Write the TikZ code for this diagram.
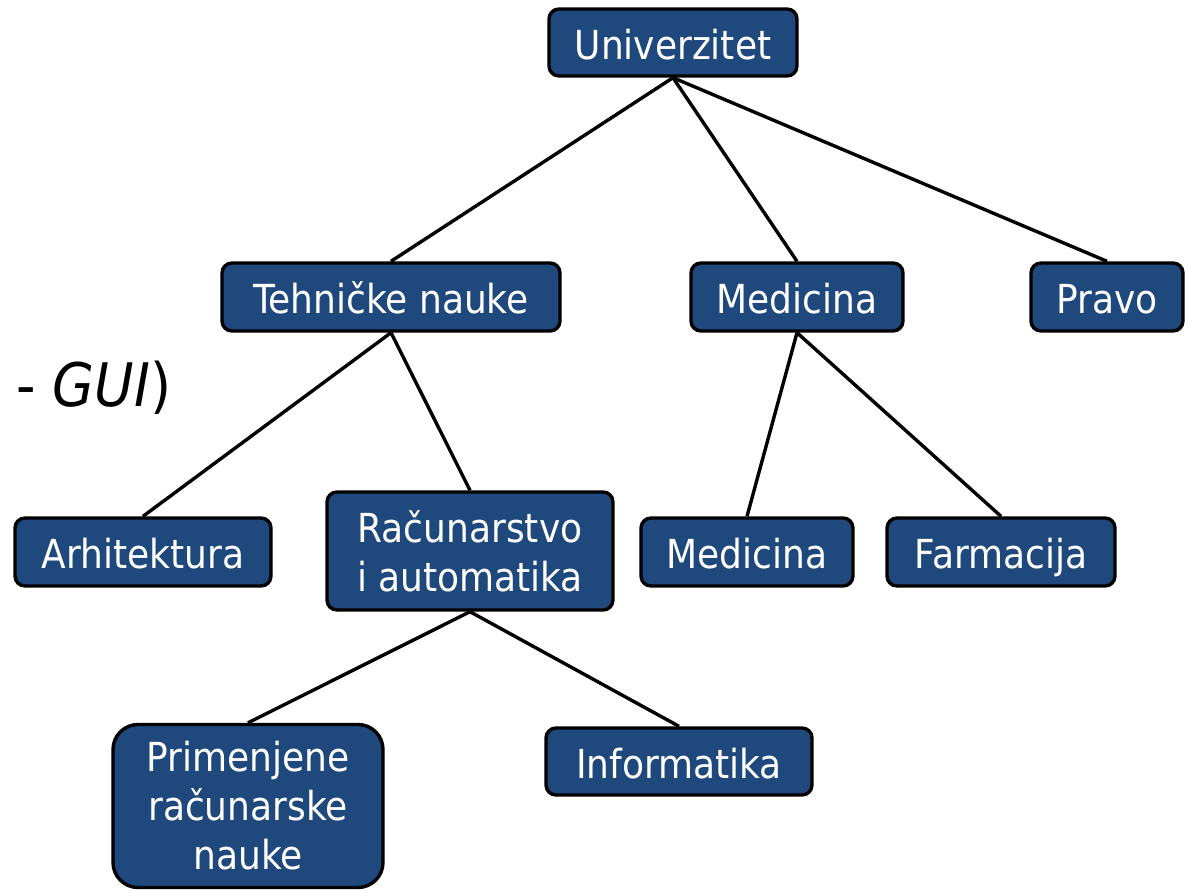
\documentclass[tikz,border=0pt]{standalone}
\usepackage{fontspec}
\setmainfont{DejaVu Sans Condensed}
\begin{document}
\begin{tikzpicture}[x=1pt,y=-1pt,
  box/.style={draw=black, line width=3.4pt, fill=boxblue, rounded corners=10pt,
    text=white, inner sep=0pt, align=center,
    font=\fontsize{40}{49}\selectfont},
  oneline/.style={text height=35pt, text depth=2pt},
  link/.style={draw=black, line width=3.4pt}]
\definecolor{boxblue}{HTML}{1F497D}
\useasboundingbox (0,0) rectangle (1191,889);

% tree of faculties
\node[box, oneline, minimum width=248pt, minimum height=67pt] (u) at (673,42.5) {Univerzitet};
\node[box, oneline, minimum width=338pt, minimum height=68pt] (t) at (391,297) {Tehničke nauke};
\node[box, oneline, minimum width=212pt, minimum height=68pt] (m) at (797,297) {Medicina};
\node[box, oneline, minimum width=152pt, minimum height=68pt] (p) at (1107,297) {Pravo};
\node[box, oneline, minimum width=256pt, minimum height=68pt] (a) at (143,552) {Arhitektura};
\node[box, minimum width=286pt, minimum height=118pt] (r) at (470,551) {Računarstvo\\i automatika};
\node[box, oneline, minimum width=212pt, minimum height=68pt] (mm) at (747,552) {Medicina};
\node[box, oneline, minimum width=228pt, minimum height=68pt] (f) at (1001,552) {Farmacija};
\node[box, rounded corners=25pt, minimum width=270pt, minimum height=163pt] (pr) at (248,806) {Primenjene\\računarske\\nauke};
\node[box, oneline, minimum width=266pt, minimum height=67pt] (i) at (679,761.5) {Informatika};

% side text
\node[anchor=west, inner sep=0pt, font=\fontsize{60}{66}\selectfont] (g) at (16,388) {- \textit{GUI})};

% connectors
\draw[link] (u.south) -- (t.north);
\draw[link] (u.south) -- (m.north);
\draw[link] (u.south) -- (p.north);
\draw[link] (t.south) -- (a.north);
\draw[link] (t.south) -- (r.north);
\draw[link] (m.south) -- (mm.north);
\draw[link] (m.south) -- (f.north);
\draw[link] (r.south) -- (pr.north);
\draw[link] (r.south) -- (i.north);
\end{tikzpicture}
\end{document}
